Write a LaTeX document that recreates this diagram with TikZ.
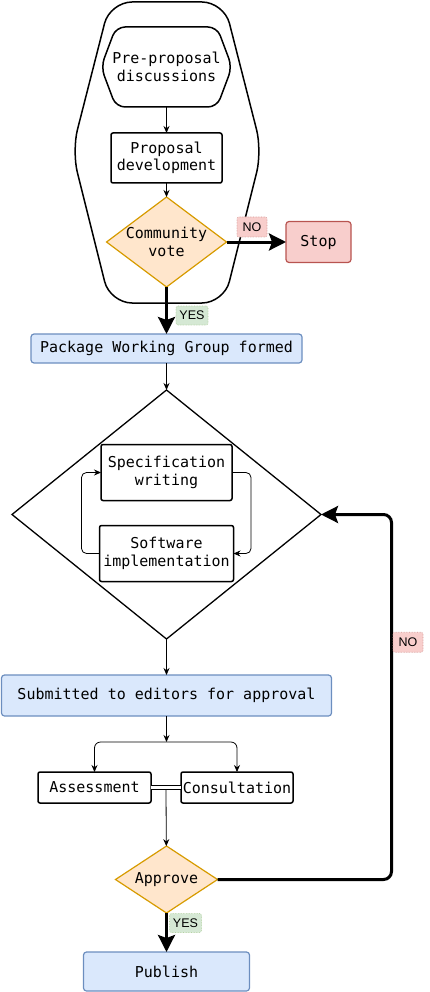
\documentclass[tikz,border=0pt]{standalone}
\usepackage{fontspec}
\setmonofont{DejaVu Sans Mono}
\newfontfamily\tagfont{Liberation Sans}
\usepackage{tikz}
\usetikzlibrary{positioning, arrows.meta, calc, shapes.geometric}
\definecolor{blueF}{HTML}{DAE8FC}\definecolor{blueD}{HTML}{6C8EBF}
\definecolor{orgF}{HTML}{FFE6CC}\definecolor{orgD}{HTML}{D79B00}
\definecolor{redF}{HTML}{F8CECC}\definecolor{redD}{HTML}{B85450}
\definecolor{grnF}{HTML}{D5E8D4}\definecolor{grnD}{HTML}{82B366}

\begin{document}
\begin{tikzpicture}[x=1pt,y=-1pt,font=\ttfamily\fontsize{15}{17.5}\selectfont,>={Stealth[length=7pt,width=6pt]},outer sep=0pt,
  b/.style={draw,line width=1.5pt,rounded corners=2pt,align=center,inner sep=0pt},
  bb/.style={draw=blueD,fill=blueF,line width=1.2pt,rounded corners=3pt,align=center,inner sep=0pt},
  rb/.style={draw=redD,fill=redF,line width=1.2pt,rounded corners=3pt,align=center,inner sep=0pt},
  dec/.style={diamond,draw=orgD,fill=orgF,line width=1.2pt,inner sep=0pt,align=center},
  hx/.style={align=center,inner sep=0pt},
  tg/.style={font=\tagfont\fontsize{12.5}{14}\selectfont,densely dotted,line width=0.6pt,rounded corners=2pt,inner sep=0pt},
  no/.style={tg,fill=redF,draw=redD!60,minimum width=30pt,minimum height=20pt},
  yes/.style={tg,fill=grnF,draw=grnD!60,minimum width=32pt,minimum height=19pt},
  ln/.style={->,line width=0.8pt},
  fat/.style={-{Stealth[length=17pt,width=17pt,inset=3pt]},line width=3pt}]
  \useasboundingbox (0,0) rectangle (429,992);

  % proposal stage
  \draw[line width=1.5pt,rounded corners=22pt] (167,2) -- (224,2) -- (262,151) -- (224,303) -- (110,303) -- (72,151) -- (110,2) -- cycle;
  \node[hx,minimum width=131pt,minimum height=80pt] (pre) at (166.5,67) {Pre-proposal\\ discussions};
  \draw[line width=1.5pt,rounded corners=9pt] (pre.north) -- ([xshift=-15pt]pre.north east) -- (pre.east) -- ([xshift=-15pt]pre.south east) -- ([xshift=15pt]pre.south west) -- (pre.west) -- ([xshift=15pt]pre.north west) -- cycle;
  \node[b,below=26pt of pre,minimum width=111pt,minimum height=50pt] (prop) {Proposal\\ development};
  \node[dec,below=14pt of prop,minimum width=120pt,minimum height=90pt,label={[align=center]center:{Community\\ vote}}] (vote) {};
  \node[rb,right=59.5pt of vote,minimum width=65pt,minimum height=41pt] (stop) {Stop};
  \draw[ln] (pre) -- (prop);\draw[ln] (prop) -- (vote);
  \draw[fat] (vote) -- (stop);
  \node[no] (no1) at ([xshift=25.5pt,yshift=15pt]vote.east) {NO};

  % working group
  \node[bb,below=47pt of vote,minimum width=271pt,minimum height=29pt] (pwg) {Package Working Group formed};
  \draw[fat] (vote) -- (pwg);
  \node[yes] (yes1) at ([xshift=25.5pt,yshift=-28.5pt]vote.south) {YES};
  \node[draw,diamond,line width=1.3pt,below=27pt of pwg,minimum width=309pt,minimum height=249pt] (wg) {};
  \node[b,above=14pt of wg.center,minimum width=131pt,minimum height=56pt] (spec) {Specification\\ writing};
  \node[b,below=11pt of wg.center,minimum width=134pt,minimum height=56pt] (soft) {Software\\ implementation};
  \draw[ln] (pwg) -- (wg);
  \draw[ln,rounded corners=5pt] (spec.east) -- ++(19,0) |- (soft.east);
  \draw[ln,rounded corners=5pt] (soft.west) -- ++(-18,0) |- (spec.west);

  % review
  \node[bb,below=36pt of wg,minimum width=330pt,minimum height=41pt] (sub) {Submitted to editors for approval};
  \draw[ln] (wg) -- (sub);
  \coordinate[below=26pt of sub] (split);
  \node[b,below=56pt of sub,xshift=-72pt,minimum width=113pt,minimum height=31pt] (assess) {Assessment};
  \node[b,below=56pt of sub,xshift=70.5pt,minimum width=112pt,minimum height=31pt] (consult) {Consultation};
  \draw[ln] (sub) -- (split);
  \draw[ln,rounded corners=6pt] (split) -| (assess);
  \draw[ln,rounded corners=6pt] (split) -| (consult);
  \draw[double,double distance=2.5pt,line width=0.8pt] (assess) -- (consult);
  \coordinate (join) at ($(assess.east)!0.5!(consult.west)$);
  \node[dec,aspect=1.52,below=130pt of sub,minimum width=102pt,minimum height=67pt] (approve) {Approve};
  \draw[ln] ([yshift=-2pt]join) -- (approve);
  \node[bb,below=39pt of approve,minimum width=166pt,minimum height=39pt] (pub) {Publish};
  \draw[fat] (approve) -- (pub);
  \node[yes] (yes2) at ([xshift=19pt,yshift=-10pt]approve.south) {YES};
  \draw[fat,rounded corners=8pt] (approve.east) -- ++(174,0) |- node[no,pos=0.325,anchor=west,xshift=1.5pt] (no2) {NO} (wg.east);
\end{tikzpicture}
\end{document}
